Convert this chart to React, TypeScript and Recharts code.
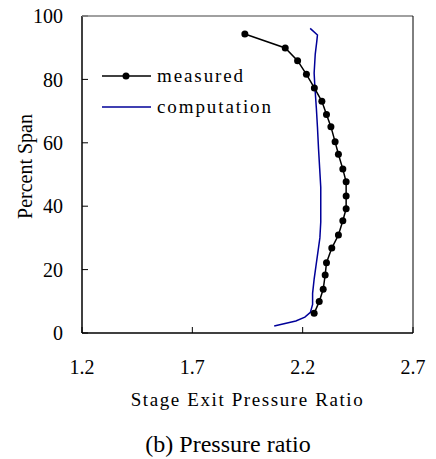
import { LineChart, Line, XAxis, YAxis } from 'recharts';

// measured: stage exit pressure ratio vs percent span
const measuredRatio = [
  1.938, 2.121, 2.177, 2.217, 2.253, 2.287, 2.308, 2.328, 2.347, 2.362, 2.382,
  2.397, 2.397, 2.397, 2.382, 2.362, 2.332, 2.308, 2.302, 2.293, 2.275, 2.252,
];
const measuredSpan = [
  94.3, 89.9, 85.9, 81.6, 77.3, 73.1, 68.9, 65.1, 60.3, 56.4, 51.7,
  47.7, 43.2, 39.2, 35.4, 30.9, 26.8, 22.2, 18.3, 13.8, 9.9, 6.2,
];

// computation
const computedRatio = [
  2.071, 2.12, 2.169, 2.21, 2.235, 2.245, 2.245, 2.252, 2.26, 2.27, 2.278, 2.282,
  2.282, 2.277, 2.272, 2.267, 2.262, 2.255, 2.252, 2.257, 2.264, 2.267, 2.234,
];
const computedSpan = [
  2.2, 3.0, 3.8, 5.0, 6.5, 9, 12.5, 17, 21, 26, 30, 35,
  46, 52, 58, 65, 71, 78, 82, 88, 92, 94, 96.1,
];

const xTicks = [1.2, 1.7, 2.2, 2.7];
const yTicks = [0, 20, 40, 60, 80, 100];

const measured = measuredRatio.map((x, i) => ({ x, y: measuredSpan[i] }));
const computed = computedRatio.map((x, i) => ({ x, y: computedSpan[i] }));

const FONT = '"Liberation Serif", "Times New Roman", serif';

// plot box (matches chart margins below)
const PLOT = { left: 82, top: 16, right: 413, bottom: 333 };

function LegendBox() {
  return (
    <svg width={200} height={62} style={{ position: 'absolute', left: 100, top: 64, fontFamily: FONT }}>
      <line x1={2} y1={12} x2={51} y2={12} stroke="#000" strokeWidth={1.5} />
      <circle cx={26} cy={12} r={3.5} fill="#000" />
      <text x={57} y={18} fontSize={19} letterSpacing={1.9} fill="#000">measured</text>
      <line x1={2} y1={43} x2={51} y2={43} stroke="#000099" strokeWidth={1.5} />
      <text x={57} y={49} fontSize={19} letterSpacing={1.9} fill="#000">computation</text>
    </svg>
  );
}

function Frame() {
  return (
    <svg width={436} height={420} style={{ position: 'absolute', left: 0, top: 0, pointerEvents: 'none' }}>
      <line x1={PLOT.left} y1={PLOT.top} x2={PLOT.right} y2={PLOT.top} stroke="#808080" strokeWidth={1.5} />
      <line x1={PLOT.right} y1={PLOT.top} x2={PLOT.right} y2={PLOT.bottom} stroke="#000" strokeWidth={1} />
    </svg>
  );
}

export default function App() {
  return (
    <div style={{ position: 'absolute', left: 0, top: 0, width: 436, height: 459, fontFamily: FONT }}>
      <LineChart width={436} height={420} margin={{ top: 16, right: 23, left: 0, bottom: 0 }}>
        <XAxis
          type="number"
          dataKey="x"
          domain={[1.2, 2.7]}
          ticks={xTicks}
          allowDataOverflow
          height={87}
          tickSize={-6}
          tickMargin={33}
          tick={{ fontSize: 20, fill: '#000', fontFamily: FONT }}
          axisLine={{ stroke: '#000', strokeWidth: 1.5 }}
          tickLine={{ stroke: '#000' }}
          tickFormatter={(v: number) => v.toFixed(1)}
          label={{ value: 'Stage Exit Pressure Ratio', position: 'insideBottom', offset: 14, fontSize: 19, fill: '#000', letterSpacing: 1.6, fontFamily: FONT }}
        />
        <YAxis
          type="number"
          dataKey="y"
          domain={[0, 100]}
          ticks={yTicks}
          width={82}
          tickSize={-6}
          tickMargin={25}
          tick={{ fontSize: 20, fill: '#000', fontFamily: FONT }}
          axisLine={{ stroke: '#000', strokeWidth: 1.5 }}
          tickLine={{ stroke: '#000' }}
          label={{
            content: ({ viewBox }: any) => (
              <text
                x={viewBox.x + 25}
                y={viewBox.y + viewBox.height / 2 - 8}
                transform={`rotate(-90 ${viewBox.x + 25} ${viewBox.y + viewBox.height / 2 - 8})`}
                textAnchor="middle"
                dominantBaseline="central"
                fontSize={20}
                fontFamily={FONT}
                fill="#000"
              >
                Percent Span
              </text>
            ),
          }}
        />
        <Line
          data={measured}
          dataKey="y"
          stroke="#000"
          strokeWidth={1.5}
          dot={{ r: 3.5, fill: '#000', stroke: '#000', strokeWidth: 0 }}
          isAnimationActive={false}
        />
        <Line
          data={computed}
          dataKey="y"
          stroke="#000099"
          strokeWidth={1.5}
          dot={false}
          isAnimationActive={false}
        />
      </LineChart>
      <Frame />
      <LegendBox />
      <div
        style={{
          position: 'absolute',
          left: 0,
          top: 432,
          width: 436,
          textAlign: 'center',
          paddingLeft: 20,
          boxSizing: 'border-box',
          fontSize: 24,
          lineHeight: '24px',
          fontFamily: FONT,
          color: '#000',
        }}
      >
        (b) Pressure ratio
      </div>
    </div>
  );
}
